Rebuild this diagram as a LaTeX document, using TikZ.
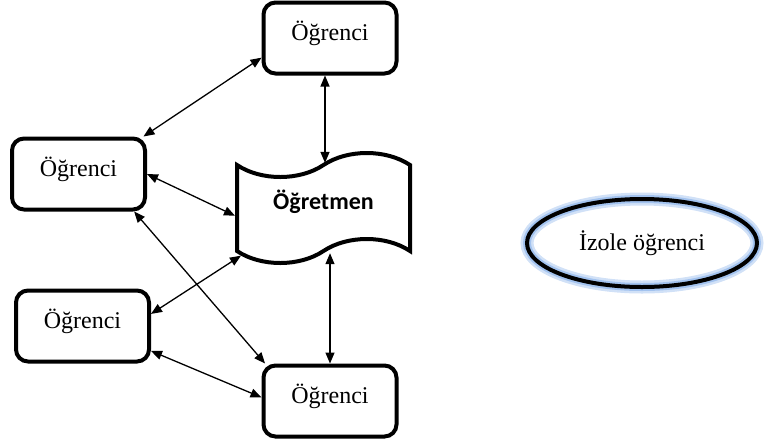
\documentclass[tikz,border=0pt]{standalone}
\usepackage{fontspec}
\setmainfont{Liberation Serif}
\newfontfamily\calibri{Carlito}
\usetikzlibrary{shapes.geometric,shapes.symbols,arrows.meta}

\definecolor{glowblue}{RGB}{140,180,235}

\begin{document}
\begin{tikzpicture}[x=0.5pt,y=-0.5pt,
    ogrbox/.style={draw, line width=2pt, rounded corners=6pt, minimum width=66.5pt, minimum height=35.5pt, text depth=7pt, font=\fontsize{12}{14}\selectfont},
    link/.style={line width=0.65pt, {Triangle[length=5.5pt,width=4.5pt]}-{Triangle[length=5.5pt,width=4.5pt]}}]
\useasboundingbox (0,0) rectangle (767,441);

% students around the teacher
\foreach \n/\x/\y in {top/330/38, left/78.5/174, lowleft/82.5/326, bottom/330/401} {%
    \node[ogrbox] (\n) at (\x,\y) {Öğrenci};
}

\node[tape, draw, line width=2pt, tape bend height=12pt, minimum width=86.5pt, minimum height=55pt, text depth=8.5pt,
      font=\calibri\bfseries\fontsize{12}{14}\selectfont] (ogretmen) at (323.5,208) {Öğretmen};

% isolated one
\node[ellipse, draw, line width=2pt, minimum width=115pt, minimum height=44pt,
      preaction={draw=glowblue!40, line width=6.5pt}, preaction={draw=glowblue!80, line width=4pt},
      font=\fontsize{12}{14}\selectfont] (izole) at (642,243) {İzole öğrenci};

\coordinate (topfoot) at ([xshift=-2.5pt]top.south);
\coordinate (ogrtop) at ([xshift=0.75pt]ogretmen.north);
\coordinate (ogrfoot) at ([xshift=3.25pt]ogretmen.south);

\foreach \a/\b in {top.196/left.30, topfoot/ogrtop,
                   left.east/ogretmen.185, left.-34/bottom.150,
                   lowleft.10/ogretmen.210, lowleft.-20/bottom.177,
                   ogrfoot/bottom.north} {%
    \draw[link] (\a) -- (\b);
}
\end{tikzpicture}
\end{document}
